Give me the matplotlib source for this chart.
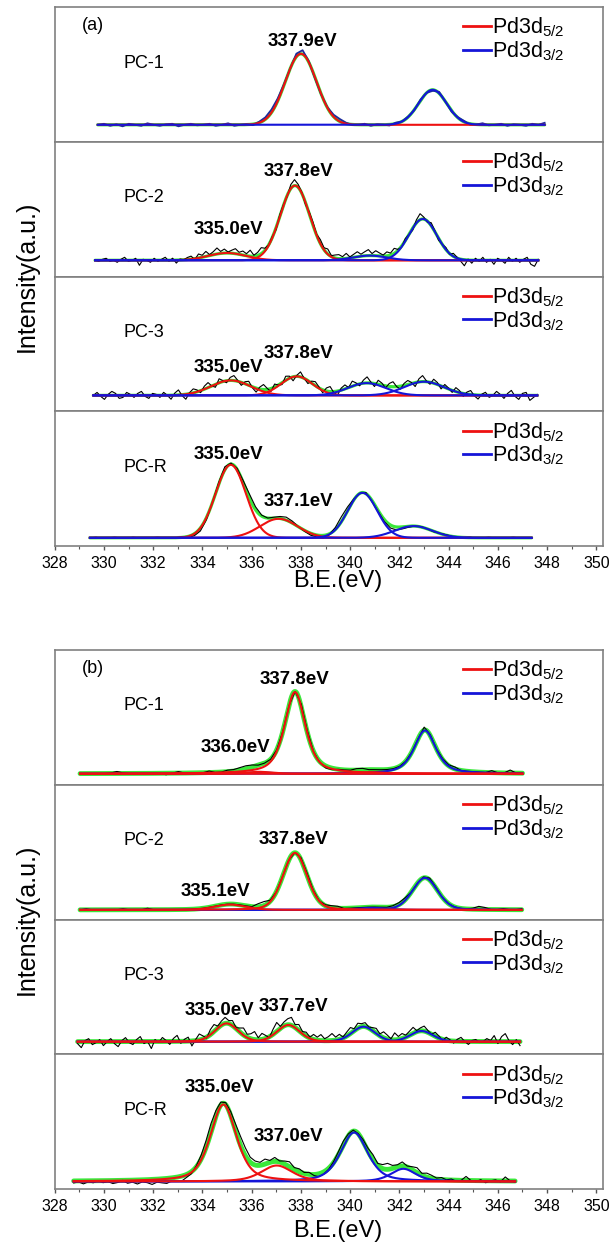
import numpy as np
import matplotlib
matplotlib.use("Agg")
import matplotlib.pyplot as plt
from matplotlib.lines import Line2D
from matplotlib.ticker import MultipleLocator
import matplotlib.transforms as mtransforms

plt.rcParams['font.family'] = ['Liberation Sans', 'DejaVu Sans']
plt.rcParams['mathtext.fontset'] = 'custom'
plt.rcParams['mathtext.rm'] = 'Liberation Sans'
plt.rcParams['mathtext.it'] = 'Liberation Sans:italic'
plt.rcParams['mathtext.bf'] = 'Liberation Sans:bold'

# ---------------- DATA ----------------
samples = ["PC-1", "PC-2", "PC-3", "PC-R"]
legend_names = [r"Pd3d$_{\mathregular{5/2}}$", r"Pd3d$_{\mathregular{3/2}}$"]

# fitted components: (center eV, height a.u., FWHM eV)
a_pd52 = [
    [(338.0, 71, 1.5)],
    [(335.0, 7.3, 1.8), (337.76, 74.7, 1.4)],
    [(335.15, 15, 1.9), (337.83, 19, 1.5)],
    [(335.15, 73, 1.45), (337.1, 19, 1.8)],
]
a_pd32 = [
    [(343.35, 35, 1.35)],
    [(340.8, 4.7, 1.6), (342.95, 41.3, 1.35)],
    [(340.67, 12.3, 1.8), (343.0, 13.7, 1.9)],
    [(340.5, 45, 1.4), (342.57, 11.7, 1.8)],
]
a_eta = [0.0, 0.0, 0.0, 0.0]
a_range = [(329.75, 347.9), (329.64, 347.64), (329.57, 347.6), (329.43, 347.37)]

b_pd52 = [
    [(336.3, 2.0, 1.2), (337.76, 81.7, 1.0), (340.8, 1.5, 1.2)],
    [(335.12, 5.3, 1.5), (337.76, 57, 1.15)],
    [(334.98, 18.3, 1.1), (337.49, 16.7, 1.1)],
    [(334.85, 77, 1.25), (337.02, 16, 1.5)],
]
b_pd32 = [
    [(336.3, 1.5, 1.2), (343.04, 43.3, 1.05)],
    [(340.9, 2.0, 1.5), (343.04, 32, 1.2)],
    [(340.54, 15, 1.1), (342.9, 10.7, 1.1)],
    [(340.16, 49, 1.3), (342.16, 12.7, 1.2)],
]
b_eta = [0.6, 0.2, 0.2, 0.5]
b_range = [(329.03, 347.0), (329.03, 346.97), (328.93, 346.9), (328.77, 346.7)]

# raw spectrum minus cumulative fit (even spacing over each range)
a_resid = [
    [0, 1, -1, 0.5, -1.5, 1, 0, -1, 1.5, 0, -1, 0.5, 1, -1.5, 0, 1, -0.5, 0, 1, -1,
     0, 1.5, -1, 0, 0.5, -1, 1, 2, 3, 2.5, 1, 0, 3, 4, 1, -1, -0.5, 0.5, 2, 2.5,
     1, -0.5, 0, 1, -1, 0.5, 0, -1, 1, 0, 0.5, -0.5, 1, 0, -1, 1.5, 0, -1, 0.5, 1,
     -1, 0, 1.5, -0.5, 0, 1, -1, 0.5, 0, -1, 1, 0, 2],
    [0, -1, 1, 2, -1, 0, -2, 1, 3, -1, 0, 2, -5, 1, 0, -2, 2, -1, 1, 3,
     -1, 2, -3, 1, 0, 2, 3, -1, 4, 2, 5, 1, 3, 6, 2, 4, 1, 3, 5, 2,
     4, 2, 6, 1, 3, 6, 2, 0, 1, -2, 2, 1, -1, 4, 6, 3, 1, -2, 2, 3,
     1, 4, 2, 5, 1, 3, 4, 2, 5, 1, 3, 5, 2, 4, 6, 2, 5, 3, 1, 4,
     2, 5, 1, -1, 2, 0, -2, 3, 6, 2, -1, 3, 1, -2, 0, 2, -1, 3, 1, -2,
     -6, 1, -3, 2, -1, 3, -2, 1, -4, 2, 0, -3, 3, -1, 2, -2, 1, 3, -4, -6, 1],
    [0, 3, -1, -4, 1, 4, 2, -3, -2, 3, 1, -2, 2, 4, -1, -3, 2, 1, -2, 3,
     0, -4, 2, 5, -1, -5, 1, 4, 2, -2, 3, 5, 0, -3, 4, 1, -2, 3, 5, 1,
     -3, 2, 4, -1, -4, 2, 5, 1, -3, 3, 0, -2, 4, 2, -4, 1, 5, 0, -3, 2,
     4, 1, -3, 3, 5, -1, -4, 2, 4, 0, 5, 2, -2, 3, 6, 1, -3, 4, 2, -2,
     3, 5, 0, -3, 2, 4, 1, -4, 3, 6, 1, -2, 4, 2, -3, 3, 1, -2, 4, 2,
     -3, 2, 4, -1, -4, 1, 3, -2, 0, 4, 1, -3, 2, 5, -1, -4, 2, 3, -5, -2, 1],
    [0, 0.5, -0.5, 0, 0.5, 0, -0.5, 0.5, 0, -0.5, 0, 0.5, 0, -0.5, 0, 0.5, -1, -2, -3, -2,
     0, 2, 3, 1, 1, 2, 4, 3, 1, 0, 1, 2, 3, 2, 0, -1, -2, -2, -3, -1,
     2, 5, 4, 1, 0, 1, -1, -1, -2, -3, -3, -2, -1, 0, 0.5, 0, -0.5, 0, 0.5, 0,
     -0.5, 0, 0.5, -0.5, 0, 0.5, 0, -0.5, 0, 0.5, 0, -0.5, 0],
]
b_resid = [
    [0, 0, 0, 0, 0, 0.5, 2, 0.5, 0, 0, 0, 0, 0, 0, -1.5, 0, 1.5, 0, 0, 0,
     0, 1.5, 0, 0, 1.5, 1.5, 2.5, 3, 2, 0, 0, 0, 0, 0, 0, 0, 3, 2, 0, -1,
     -2, -1.5, 0, 0, 0, 1.5, 1.5, 0, 0, 0, 0, 0, 0, 0, 0, 0, 3, 1, 0, 1,
     1, 2, 0, 0, 0, 0, 0, 2, 0, 0, 3, 0, 0],
    [0, 1, 0, 0, 0, 0, 0, 1, 0, 0, 0, 1.5, 0, 0, 0, 0, 0, 0, 0, 0,
     0, 0, 0, 0, 0, 0, 0, 0, 0, 3, 4, 1, 0, 0, 0, 0, 2, 2.5, 1, 0,
     1, 2, 2, 0, 0, 0, 0, 0, 0, 0, 0, 1, 2, 2, 0, 0, 1, 2, 1, 0,
     0, 0, 0, 0, 1, 3, 2, 0, 0, 1, 0, 0, 1],
    [-2, -6, 1, 3, -3, -1, 2, -4, 0, 3, -2, -5, 1, 4, -1, -3, 2, 5, -2, 0,
     -7, 2, -1, 4, 1, -3, 3, 6, -2, 2, 4, -5, 1, 6, 3, -1, 5, 7, 2, 4,
     6, 3, 5, 1, 4, 7, 3, 5, 8, 2, 6, 3, -1, 5, 9, 2, 4, 6, 8, 3,
     6, 2, 4, 1, 5, 3, 6, 2, 4, 7, 3, 5, 1, 4, 6, 2, 5, 3, 4, 1,
     3, 5, 2, 6, 4, 1, 7, 3, 5, 2, 4, 6, 1, 3, 5, 2, 0, 4, 2, -1,
     3, 1, -2, 2, 4, 0, -3, 1, 2, -1, 0, 3, 1, 6, -2, 5, 8, 1, -3, 2, -4],
    [-2, -1, -3, -1, -2, 0, -2, -1, -3, -2, 0, -3, -2, -4, -2, -3, -5, -3, -4, -5,
     -3, -4, -5, -3, -2, 1, 4, 7, 9, 6, 3, 2, 4, 7, 9, 8, 5, 4, 3, 5,
     2, 4, 1, 3, 5, 2, 3, 1, 2, -1, -3, -2, -1, 1, 3, 4, 2, 1, 0, 2,
     3, 5, 2, 4, 6, 3, 2, 4, 1, 3, 5, 2, 4, 3, 1, 2, 0, 1, -1, 0,
     4, 0, -1, 1, -2, 0, 1, -1, 4, 0, -1],
]

a_peak_text = [["337.9eV"], ["337.8eV", "335.0eV"], ["337.8eV", "335.0eV"], ["335.0eV", "337.1eV"]]
b_peak_text = [["337.8eV", "336.0eV"], ["337.8eV", "335.1eV"], ["335.0eV", "337.7eV"], ["335.0eV", "337.0eV"]]

x_ticks = np.arange(328, 351, 2)

# ---------------- LAYOUT ----------------
W, H = 614, 1245
AX_L, AX_R = 54.7, 603
X_MAX = 328 + (AX_R - AX_L) / 24.62
PANEL_H = 134.8

# (x eV, px below panel top) for the peak labels
a_peak_pos = [[(338.06, 34)], [(337.9, 30), (335.05, 88)],
              [(337.9, 77), (335.05, 91)], [(335.05, 43), (337.9, 90)]]
b_peak_pos = [[(337.76, 30), (335.33, 98)], [(337.69, 55), (334.51, 107)],
              [(334.71, 91), (337.69, 87)], [(334.71, 33), (337.49, 82)]]
a_ybot = [-17, -16.3, -16, -8.4]
b_ybot = [-11, -9.7, -12.7, -7.7]

RED, BLUE, GREEN = "#ee1111", "#1515d8", "#3ae83a"
FRAME = "#808080"


def pv(x, comps, eta):
    y = np.zeros_like(x)
    for c, h, w in comps:
        g = np.exp(-4 * np.log(2) * (x - c) ** 2 / w ** 2)
        lo = 1 / (1 + 4 * (x - c) ** 2 / w ** 2)
        y = y + h * ((1 - eta) * g + eta * lo)
    return y


def draw_group(top_px, letter, pd52, pd32, etas, ranges, resids, texts, poss, ybots,
               red_on_top, green_lw, first_raw_color, xlabel_gap):
    axes = []
    for k in range(4):
        bot_px = top_px + (k + 1) * PANEL_H
        ax = fig.add_axes([AX_L / W, 1 - bot_px / H, (AX_R - AX_L) / W, PANEL_H / H])
        axes.append(ax)

        lo, hi = ranges[k]
        x = np.linspace(lo, hi, 800)
        total = pv(x, pd52[k], etas[k]) + pv(x, pd32[k], etas[k])
        xr = np.linspace(lo, hi, len(resids[k]))
        raw = pv(xr, pd52[k], etas[k]) + pv(xr, pd32[k], etas[k]) + np.array(resids[k])

        ax.plot(x, total, color=GREEN, lw=green_lw, zorder=1, solid_capstyle="round")
        raw_col = first_raw_color if k == 0 else "black"
        ax.plot(xr, raw, color=raw_col, lw=0.8 if raw_col == "black" else 1.3, zorder=2)
        zr, zb = (4, 3) if red_on_top else (3, 4)
        for comp in pd52[k]:
            ax.plot(x, pv(x, [comp], etas[k]), color=RED, lw=1.5, zorder=zr)
        for comp in pd32[k]:
            ax.plot(x, pv(x, [comp], etas[k]), color=BLUE, lw=1.5, zorder=zb)

        ax.set_xlim(328, X_MAX)
        ax.set_ylim(ybots[k], ybots[k] + PANEL_H)
        ax.set_yticks([])
        for s in ax.spines.values():
            s.set_color(FRAME)
            s.set_linewidth(1.2)

        ax.text(0.125, 1 - 56 / PANEL_H, samples[k], transform=ax.transAxes,
                fontsize=13, va="center", ha="left")
        trans = mtransforms.blended_transform_factory(ax.transData, ax.transAxes)
        for t, (px_, py_) in zip(texts[k], poss[k]):
            ax.text(px_, 1 - py_ / PANEL_H, t, transform=trans, fontsize=13.5,
                    fontweight="bold", ha="center", va="center")

        handles = [Line2D([], [], color=RED, lw=2), Line2D([], [], color=BLUE, lw=2)]
        ax.legend(handles, legend_names, loc="upper left", bbox_to_anchor=(0.745, 0.935),
                  frameon=False, fontsize=15.5, handlelength=1.3, handletextpad=0.03,
                  borderpad=0, borderaxespad=0, labelspacing=0.0)

        if k < 3:
            ax.tick_params(axis="x", bottom=False, labelbottom=False)
        else:
            ax.set_xticks(x_ticks)
            ax.xaxis.set_minor_locator(MultipleLocator(1))
            ax.tick_params(axis="x", which="major", direction="out", length=3,
                           width=1, color="#555555", labelsize=11.5, pad=4)
            ax.tick_params(axis="x", which="minor", direction="out", length=2,
                           width=0.8, color="#555555")

    axes[0].text(0.05, 1 - 19 / PANEL_H, letter, transform=axes[0].transAxes,
                 fontsize=13, va="center", ha="left")
    mid = top_px + 2 * PANEL_H
    fig.text(27 / W, 1 - mid / H, "Intensity(a.u.)", rotation=90, fontsize=18,
             ha="center", va="center")
    fig.text(338 / W, 1 - (top_px + 4 * PANEL_H + xlabel_gap) / H, "B.E.(eV)",
             fontsize=17, ha="center", va="center")
    return axes


fig = plt.figure(figsize=(W / 100, H / 100), dpi=100)

draw_group(7, "(a)", a_pd52, a_pd32, a_eta, a_range, a_resid, a_peak_text, a_peak_pos,
           a_ybot, red_on_top=False, green_lw=2.3, first_raw_color="#1b2a9c",
           xlabel_gap=35)
draw_group(650, "(b)", b_pd52, b_pd32, b_eta, b_range, b_resid, b_peak_text, b_peak_pos,
           b_ybot, red_on_top=True, green_lw=3.5, first_raw_color="black",
           xlabel_gap=42)

fig.savefig("out.png", dpi=100)
